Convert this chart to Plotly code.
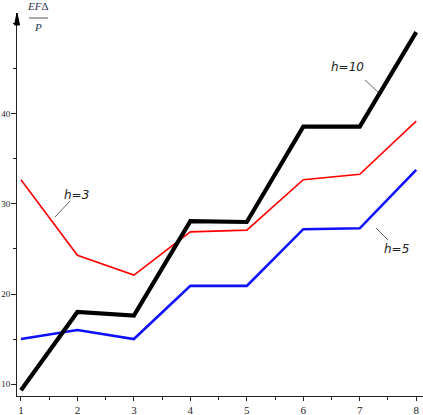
import plotly.graph_objects as go

x_vals = [1, 2, 3, 4, 5, 6, 7, 8]
h10 = [9.3, 18.0, 17.6, 28.1, 28.0, 38.6, 38.6, 49.1]
h3 = [32.7, 24.3, 22.1, 26.9, 27.1, 32.7, 33.3, 39.2]
h5 = [15.0, 16.0, 15.0, 20.9, 20.9, 27.2, 27.3, 33.8]
y_ticks = [10, 20, 30, 40]

fig = go.Figure()
fig.add_trace(go.Scatter(x=x_vals, y=h3, mode="lines", line=dict(color="#ff0000", width=1.6), showlegend=False))
fig.add_trace(go.Scatter(x=x_vals, y=h5, mode="lines", line=dict(color="#1010ff", width=2.6), showlegend=False))
fig.add_trace(go.Scatter(x=x_vals, y=h10, mode="lines", line=dict(color="#000000", width=4.2), showlegend=False))

W, H = 423, 415
L, R, T, B = 17, 0, 13, 19
pw, ph = W - L - R, H - T - B

fig.update_layout(
    width=W, height=H,
    margin=dict(l=L, r=R, t=T, b=B),
    plot_bgcolor="white", paper_bgcolor="white",
    xaxis=dict(range=[0.93, 8.12], tickvals=x_vals, showgrid=False, zeroline=False,
               showline=True, linecolor="#222", linewidth=1,
               ticks="outside", ticklen=4, tickcolor="#222",
               minor=dict(dtick=0.5, tick0=0, ticks="outside", ticklen=3, tickcolor="#222"),
               tickfont=dict(family="Liberation Serif, Times New Roman, serif", size=11, color="#222"),
               ticklabelstandoff=0,
               automargin=False),
    yaxis=dict(range=[8.667, 51.22], tickvals=y_ticks, showgrid=False, zeroline=False,
               showline=True, linecolor="#222", linewidth=1,
               ticks="outside", ticklen=5, tickcolor="#222",
               minor=dict(dtick=5, tick0=0, ticks="outside", ticklen=3, tickcolor="#222"),
               tickfont=dict(family="Liberation Serif, Times New Roman, serif", size=9, color="#222"),
               ticklabelstandoff=-1,
               automargin=False),
)

# arrow at the top of the y axis
ax_w = 1.0 / pw
ay_h = 1.0 / ph
fig.add_shape(type="path", xref="paper", yref="paper",
              path=f"M {-2.5*ax_w} {1 - 12*ay_h} L {2.5*ax_w} {1 - 12*ay_h} L 0 1 Z",
              fillcolor="#000", line=dict(color="#000", width=1))

# y-axis title as a fraction
fig.add_annotation(x=0, y=1, xref="paper", yref="paper", xshift=21, yshift=-1,
                   text="<i>EF</i>Δ", showarrow=False, xanchor="center", yanchor="bottom",
                   font=dict(family="Liberation Serif, Times New Roman, serif", size=11, color="#2a3550"))
fig.add_shape(type="line", xref="paper", yref="paper",
              x0=12 * ax_w, x1=31 * ax_w, y0=1 - 5 * ay_h, y1=1 - 5 * ay_h,
              line=dict(color="#555", width=1))
fig.add_annotation(x=0, y=1, xref="paper", yref="paper", xshift=21, yshift=-6,
                   text="<i>P</i>", showarrow=False, xanchor="center", yanchor="top",
                   font=dict(family="Liberation Serif, Times New Roman, serif", size=11, color="#2a3550"))

lab_font = dict(family="DejaVu Sans, Verdana, sans-serif", size=12, color="#222")
def px2x(px):
    return 0.93 + (px - L) / pw * (8.12 - 0.93)
def py2y(py):
    return 8.667 + (396 - py) / ph * (51.22 - 8.667)

# labels with leader lines
for text, tx, ty, lx0, ly0, lx1, ly1 in [
    ("<i>h=10</i>", 347, 67, 365, 80, 378, 92),
    ("<i>h=3</i>", 76, 195, 70, 201, 55, 217),
    ("<i>h=5</i>", 396, 249, 376, 228, 388, 240),
]:
    fig.add_annotation(x=px2x(tx), y=py2y(ty), text=text, showarrow=False,
                       font=lab_font, xanchor="center", yanchor="middle")
    fig.add_shape(type="line", x0=px2x(lx0), y0=py2y(ly0), x1=px2x(lx1), y1=py2y(ly1),
                  line=dict(color="#666", width=1))

fig.write_html("out.html", config={"displayModeBar": False})
with open("out.html", "r", encoding="utf-8") as f:
    html = f.read()
html = html.replace("<head>", "<head><style>html,body{margin:0;padding:0;overflow:hidden;}</style>", 1)
with open("out.html", "w", encoding="utf-8") as f:
    f.write(html)
